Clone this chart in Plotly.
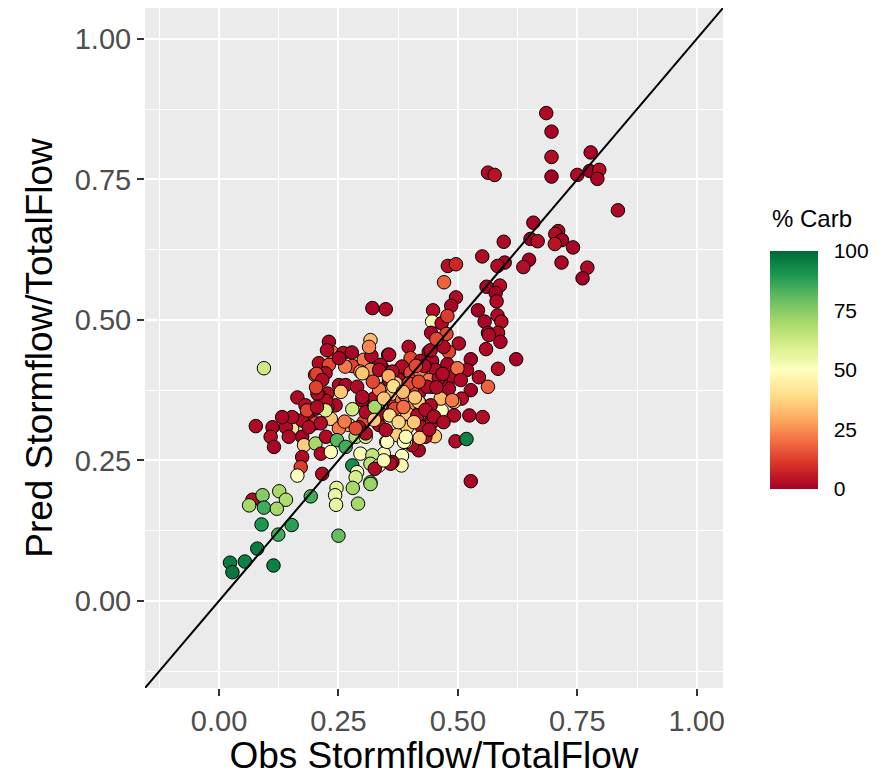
import plotly.graph_objects as go

# Observed storm-flow ratio, predicted storm-flow ratio, % carbonate
OBS = [0.685, 0.696, 0.696, 0.696, 0.563, 0.577, 0.778, 0.750, 0.776, 0.796, 0.792, 0.835,
       0.658, 0.596, 0.652, 0.667, 0.710, 0.704, 0.718, 0.703, 0.741, 0.551, 0.479, 0.496,
       0.598, 0.583, 0.649, 0.637, 0.717, 0.771, 0.761, 0.471, 0.560, 0.588, 0.579, 0.581,
       0.496, 0.486, 0.448, 0.542, 0.583, 0.349, 0.321, 0.446, 0.466, 0.444, 0.476, 0.478,
       0.502, 0.481, 0.556, 0.591, 0.563, 0.584, 0.589, 0.559, 0.622, 0.584, 0.527, 0.544,
       0.563, 0.519, 0.488, 0.527, 0.508, 0.481, 0.492, 0.466, 0.492, 0.524, 0.552, 0.495,
       0.518, 0.527, 0.452, 0.439, 0.418, 0.432, 0.404, 0.383, 0.382, 0.350, 0.345, 0.363,
       0.373, 0.391, 0.397, 0.394, 0.420, 0.464, 0.397, 0.354, 0.401, 0.439, 0.478, 0.464,
       0.446, 0.425, 0.401, 0.377, 0.345, 0.366, 0.397, 0.418, 0.342, 0.377, 0.373, 0.094,
       0.230, 0.317, 0.237, 0.260, 0.278, 0.209, 0.230, 0.279, 0.264, 0.201, 0.303, 0.319,
       0.314, 0.356, 0.338, 0.317, 0.296, 0.251, 0.265, 0.227, 0.209, 0.164, 0.349, 0.375,
       0.370, 0.404, 0.324, 0.300, 0.279, 0.331, 0.244, 0.227, 0.181, 0.157, 0.185, 0.202,
       0.234, 0.272, 0.251, 0.303, 0.335, 0.153, 0.140, 0.112, 0.077, 0.108, 0.115, 0.146,
       0.174, 0.178, 0.202, 0.224, 0.247, 0.265, 0.286, 0.307, 0.352, 0.387, 0.213, 0.234,
       0.296, 0.321, 0.317, 0.335, 0.359, 0.174, 0.171, 0.164, 0.216, 0.279, 0.289, 0.286,
       0.317, 0.326, 0.345, 0.070, 0.063, 0.091, 0.094, 0.126, 0.140, 0.121, 0.089, 0.152,
       0.124, 0.080, 0.023, 0.054, 0.028, 0.114, 0.192, 0.246, 0.243, 0.245, 0.280, 0.291,
       0.317, 0.250, 0.223, 0.356, 0.289, 0.255, 0.224, 0.206, 0.202, 0.223, 0.307, 0.338,
       0.363, 0.174, 0.188, 0.293, 0.307, 0.349, 0.422, 0.446, 0.499, 0.383, 0.363, 0.401,
       0.422, 0.453, 0.439, 0.506, 0.436, 0.363, 0.383, 0.443, 0.394, 0.368, 0.415, 0.425,
       0.391,
       0.204, 0.300, 0.335, 0.370, 0.300, 0.326, 0.213, 0.263, 0.286, 0.443, 0.565, 0.397,
       0.418, 0.460, 0.488, 0.418, 0.446, 0.226, 0.251, 0.216, 0.203, 0.153, 0.132, 0.184,
       0.205, 0.470, 0.455, 0.430, 0.412, 0.468, 0.455, 0.390, 0.410, 0.432, 0.450, 0.470,
       0.408, 0.420, 0.440, 0.355, 0.365, 0.385, 0.335, 0.322, 0.345, 0.357, 0.325, 0.376,
       0.386]

PRED = [0.868, 0.835, 0.790, 0.755, 0.762, 0.758, 0.798, 0.758, 0.765, 0.767, 0.751, 0.695,
        0.673, 0.639, 0.644, 0.640, 0.658, 0.653, 0.642, 0.635, 0.629, 0.613, 0.596, 0.599,
        0.602, 0.596, 0.607, 0.594, 0.602, 0.593, 0.574, 0.567, 0.559, 0.561, 0.548, 0.533,
        0.540, 0.525, 0.517, 0.517, 0.508, 0.519, 0.521, 0.497, 0.494, 0.477, 0.475, 0.507,
        0.458, 0.443, 0.497, 0.497, 0.477, 0.477, 0.461, 0.448, 0.430, 0.413, 0.430, 0.398,
        0.381, 0.411, 0.399, 0.375, 0.360, 0.378, 0.354, 0.339, 0.330, 0.330, 0.327, 0.284,
        0.288, 0.213, 0.293, 0.316, 0.268, 0.292, 0.277, 0.258, 0.241, 0.283, 0.262, 0.247,
        0.295, 0.283, 0.327, 0.309, 0.352, 0.360, 0.452, 0.438, 0.432, 0.443, 0.421, 0.393,
        0.381, 0.396, 0.393, 0.387, 0.378, 0.351, 0.348, 0.369, 0.414, 0.411, 0.369, 0.414,
        0.461, 0.464, 0.442, 0.441, 0.442, 0.423, 0.420, 0.418, 0.417, 0.402, 0.429, 0.436,
        0.452, 0.438, 0.420, 0.411, 0.408, 0.384, 0.384, 0.369, 0.366, 0.362, 0.378, 0.394,
        0.372, 0.375, 0.360, 0.357, 0.341, 0.345, 0.348, 0.345, 0.348, 0.324, 0.329, 0.316,
        0.324, 0.313, 0.307, 0.318, 0.313, 0.307, 0.309, 0.309, 0.311, 0.292, 0.274, 0.292,
        0.292, 0.277, 0.280, 0.292, 0.286, 0.274, 0.292, 0.292, 0.283, 0.283, 0.262, 0.265,
        0.262, 0.259, 0.244, 0.241, 0.244, 0.256, 0.238, 0.223, 0.226, 0.241, 0.229, 0.220,
        0.211, 0.235, 0.250, 0.180, 0.170, 0.188, 0.166, 0.195, 0.180, 0.164, 0.136, 0.135,
        0.118, 0.093, 0.068, 0.070, 0.051, 0.063, 0.186, 0.201, 0.188, 0.171, 0.201, 0.173,
        0.208, 0.116, 0.405, 0.393, 0.381, 0.372, 0.356, 0.369, 0.342, 0.339, 0.336, 0.333,
        0.339, 0.321, 0.309, 0.309, 0.298, 0.304, 0.427, 0.427, 0.414, 0.417, 0.408, 0.406,
        0.405, 0.411, 0.393, 0.393, 0.381, 0.369, 0.357, 0.348, 0.333, 0.342, 0.330, 0.309,
        0.292,
        0.404, 0.405, 0.411, 0.387, 0.363, 0.345, 0.316, 0.319, 0.307, 0.446, 0.473, 0.387,
        0.390, 0.396, 0.357, 0.354, 0.318, 0.446, 0.432, 0.393, 0.380, 0.327, 0.327, 0.339,
        0.345, 0.452, 0.466, 0.418, 0.418, 0.404, 0.380, 0.366, 0.362, 0.340, 0.328, 0.318,
        0.318, 0.290, 0.305, 0.400, 0.382, 0.372, 0.376, 0.390, 0.360, 0.330, 0.322, 0.318,
        0.345]

CARB = [2, 1, 3, 0, 2, 4, 1, 2, 0, 3, 1, 2,
        1, 2, 0, 3, 1, 2, 0, 4, 1, 2, 3, 8,
        1, 2, 0, 3, 1, 2, 0, 18, 1, 3, 0, 2,
        2, 1, 3, 0, 2, 2, 1, 52, 2, 1, 14, 12,
        2, 13, 1, 3, 0, 2, 1, 2, 1, 3, 0, 2,
        18, 1, 2, 0, 3, 1, 30, 50, 2, 1, 3, 2,
        95, 1, 35, 2, 1, 3, 2, 50, 48, 50, 47, 2,
        36, 55, 33, 35, 33, 32, 2, 1, 14, 2, 1, 3,
        22, 14, 15, 25, 33, 14, 24, 2, 1, 13, 25, 62,
        1, 33, 20, 2, 1, 2, 14, 13, 22, 13, 22, 2,
        24, 2, 1, 25, 24, 2, 1, 3, 13, 2, 35, 2,
        1, 14, 2, 1, 62, 72, 2, 1, 3, 2, 1, 14,
        35, 35, 22, 14, 2, 40, 2, 1, 2, 3, 1, 2,
        0, 36, 70, 2, 82, 85, 68, 60, 50, 50, 2, 52,
        52, 65, 66, 53, 2, 2, 12, 50, 2, 92, 52, 60,
        80, 2, 52, 2, 70, 75, 85, 70, 68, 70, 90, 88,
        85, 96, 96, 95, 97, 95, 85, 58, 55, 56, 70, 70,
        72, 80, 2, 2, 2, 35, 2, 2, 2, 60, 2, 2,
        2, 2, 2, 2, 2, 2, 2, 1, 20, 2, 2, 14,
        22, 2, 22, 2, 2, 35, 22, 2, 35, 14, 2, 2,
        52,
        13, 35, 2, 35, 2, 70, 2, 22, 14, 2, 2, 14,
        14, 2, 22, 35, 2, 2, 1, 2, 13, 2, 1, 13,
        2, 2, 14, 2, 14, 2, 2, 22, 35, 2, 2, 2,
        35, 36, 2, 30, 40, 33, 22, 14, 35, 40, 35, 38,
        20]

AXIS_RANGE = [-0.155, 1.055]
TICKS = [0.0, 0.25, 0.5, 0.75, 1.0]
TICK_TEXT = ["0.00", "0.25", "0.50", "0.75", "1.00"]
CB_TICKS = [0, 25, 50, 75, 100]
CB_TEXT = ["0", "25", "50", "75", "100"]
LEGEND_TITLE = "% Carb"

FONT = "Liberation Sans, Arial, sans-serif"

# colour-bar geometry (paper units relative to the plotting area, 578 x 680 px)
PLOT_W, PLOT_H = 578, 680
CB_X, CB_Y, CB_THICK, CB_LEN = 1.0813, 0.4676, 48, 238

fig = go.Figure()
fig.add_trace(go.Scatter(
    x=OBS, y=PRED, mode="markers",
    marker=dict(
        size=13.5, color=CARB, cmin=0, cmax=100, colorscale="RdYlGn",
        line=dict(color="black", width=1),
        colorbar=dict(
            tickvals=CB_TICKS, ticktext=CB_TEXT,
            tickfont=dict(size=21, color="black", family=FONT),
            ticks="outside", tickcolor="rgba(0,0,0,0)", ticklen=12, tickwidth=1,
            thickness=CB_THICK, thicknessmode="pixels",
            len=CB_LEN, lenmode="pixels",
            x=CB_X, xanchor="left", xpad=0,
            y=CB_Y, yanchor="middle", ypad=0,
            outlinewidth=0,
        ),
    ),
    showlegend=False, hoverinfo="skip",
))
fig.add_trace(go.Scatter(
    x=AXIS_RANGE, y=AXIS_RANGE, mode="lines",
    line=dict(color="black", width=2), showlegend=False, hoverinfo="skip",
))

# white ggplot-style tick marks inside the colour bar
shapes = []
bar_left = CB_X
bar_right = CB_X + CB_THICK / PLOT_W
tick_w = 9 / PLOT_W
bar_bottom = CB_Y - (CB_LEN / 2) / PLOT_H
for v in CB_TICKS[1:-1]:
    yy = bar_bottom + (v / 100) * CB_LEN / PLOT_H
    for x0, x1 in [(bar_left, bar_left + tick_w), (bar_right - tick_w, bar_right)]:
        shapes.append(dict(type="line", xref="paper", yref="paper",
                           x0=x0, x1=x1, y0=yy, y1=yy,
                           line=dict(color="white", width=1)))

axis_common = dict(
    range=AXIS_RANGE, tickvals=TICKS, ticktext=TICK_TEXT,
    showgrid=True, gridcolor="white", gridwidth=2,
    zeroline=False, showline=False,
    ticks="outside", ticklen=7, tickwidth=1.5, tickcolor="#333333",
    tickfont=dict(size=29, color="#4D4D4D", family=FONT),
    minor=dict(dtick=0.125, tick0=0, showgrid=True, gridcolor="white", gridwidth=1, ticks=""),
)

fig.update_layout(
    width=879, height=768,
    margin=dict(l=137, r=164, t=0, b=88),
    paper_bgcolor="white", plot_bgcolor="#EBEBEB",
    font=dict(family=FONT),
    xaxis=dict(**axis_common,
               title=dict(text="Obs Stormflow/TotalFlow", standoff=2,
                          font=dict(size=37, color="black", family=FONT))),
    yaxis=dict(**axis_common,
               title=dict(text="Pred Stormflow/TotalFlow", standoff=10,
                          font=dict(size=37, color="black", family=FONT))),
    shapes=shapes,
    annotations=[dict(
        text=LEGEND_TITLE, xref="paper", yref="paper",
        x=CB_X, y=0.691, xanchor="left", yanchor="middle",
        showarrow=False, font=dict(size=24, color="black", family=FONT),
    )],
)

fig.write_html("out.html")
